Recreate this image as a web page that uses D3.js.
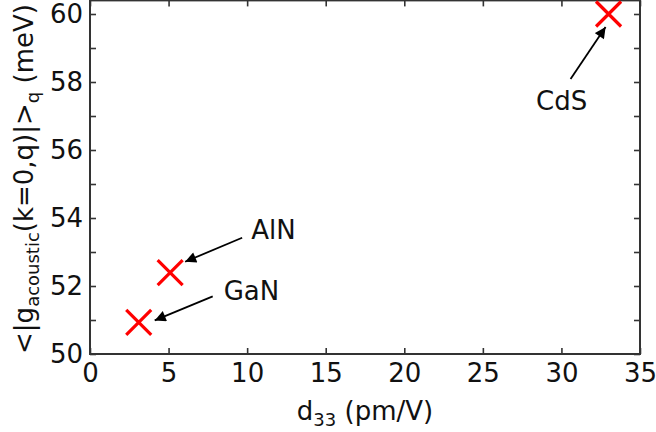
<!DOCTYPE html>
<html>
<head>
<meta charset="utf-8">
<script src="https://cdn.jsdelivr.net/npm/d3@7"></script>
<style>
  html, body { margin: 0; padding: 0; background: #fff; }
  svg { display: block; font-family: "DejaVu Sans", Verdana, sans-serif; }
</style>
</head>
<body>
<svg id="chart" width="656" height="432"></svg>
<script>
// Piezoelectric coefficient vs. averaged acoustic electron-phonon coupling
const materials = ["GaN", "AlN", "CdS"];
const d33 = [3.1, 5.1, 33.0];            // pm/V
const gAcoustic = [50.93, 52.39, 60.0];  // meV

const xTicks = [0, 5, 10, 15, 20, 25, 30, 35];
const yTicks = [50, 52, 54, 56, 58, 60];
const yMinorTicks = [51, 53, 55, 57, 59];

const svg = d3.select("#chart");
const left = 90, right = 640, bottom = 354;

const x = d3.scaleLinear().domain([0, 35]).range([left, right]);
const y = d3.scaleLinear().domain([50, 60]).range([bottom, 14]);
const yTop = y(60.4);

const axisColor = "#333";
const fontSize = 26;
const subSize = 18;

// Axes: ticks pointing inward on all four sides
const bottomAxis = d3.axisBottom(x).tickValues(xTicks).tickSize(-6).tickPadding(10).tickFormat(d3.format("d"));
const topAxis = d3.axisTop(x).tickValues(xTicks).tickSize(-6).tickFormat("");
const leftAxis = d3.axisLeft(y).tickValues(yTicks).tickSize(-6).tickPadding(7).tickFormat(d3.format("d"));
const leftMinor = d3.axisLeft(y).tickValues(yMinorTicks).tickSize(-6).tickFormat("");
const rightAxis = d3.axisRight(y).tickValues(yTicks.concat(yMinorTicks)).tickSize(-6).tickFormat("");

function styleAxis(g) {
  g.select(".domain").remove();
  g.selectAll(".tick line").attr("stroke", axisColor).attr("stroke-width", 1.6);
  g.selectAll(".tick text").attr("fill", "#111").style("font-size", fontSize + "px")
    .style("font-family", '"DejaVu Sans", Verdana, sans-serif');
}

svg.append("g").attr("transform", `translate(0,${bottom})`).call(bottomAxis).call(styleAxis);
svg.append("g").attr("transform", `translate(0,${yTop})`).call(topAxis).call(styleAxis);
svg.append("g").attr("transform", `translate(${left},0)`).call(leftAxis).call(styleAxis);
svg.append("g").attr("transform", `translate(${left},0)`).call(leftMinor).call(styleAxis);
svg.append("g").attr("transform", `translate(${right},0)`).call(rightAxis).call(styleAxis);

// Frame
svg.append("rect")
  .attr("x", left).attr("y", yTop)
  .attr("width", right - left).attr("height", bottom - yTop)
  .attr("fill", "none").attr("stroke", axisColor).attr("stroke-width", 2);

// Markers: red crosses
const arm = 12.5;
const pts = materials.map((m, i) => ({ name: m, px: x(d33[i]), py: y(gAcoustic[i]) }));

const marks = svg.append("g");
pts.forEach(p => {
  marks.append("path")
    .attr("d", `M${p.px - arm},${p.py - arm}L${p.px + arm},${p.py + arm}M${p.px - arm},${p.py + arm}L${p.px + arm},${p.py - arm}`)
    .attr("stroke", "#ff0000").attr("stroke-width", 3.2).attr("fill", "none");
});

// Annotations: text offset, arrow tail and tip offsets (pixels from the marker)
const annot = {
  GaN: { tx: 85, ty: -22, anchor: "start", tail: [74, -26], tip: [16, -2] },
  AlN: { tx: 81, ty: -34, anchor: "start", tail: [72, -35], tip: [15, -11] },
  CdS: { tx: -47, ty: 96, anchor: "middle", tail: [-38, 65], tip: [-3, 13] }
};

svg.append("defs").append("marker")
  .attr("id", "head").attr("viewBox", "0 0 10 10")
  .attr("refX", 10).attr("refY", 5)
  .attr("markerWidth", 13).attr("markerHeight", 11)
  .attr("markerUnits", "userSpaceOnUse")
  .attr("orient", "auto")
  .append("path").attr("d", "M0,0L10,5L0,10Z").attr("fill", "#000");

const ann = svg.append("g");
pts.forEach(p => {
  const a = annot[p.name];
  ann.append("line")
    .attr("x1", p.px + a.tail[0]).attr("y1", p.py + a.tail[1])
    .attr("x2", p.px + a.tip[0]).attr("y2", p.py + a.tip[1])
    .attr("stroke", "#000").attr("stroke-width", 1.8)
    .attr("marker-end", "url(#head)");
  ann.append("text")
    .attr("x", p.px + a.tx).attr("y", p.py + a.ty)
    .attr("text-anchor", a.anchor)
    .attr("fill", "#111")
    .style("font-size", fontSize + "px")
    .text(p.name);
});

// Axis titles
const xl = svg.append("text")
  .attr("x", (left + right) / 2).attr("y", 420)
  .attr("text-anchor", "middle").attr("fill", "#111")
  .style("font-size", fontSize + "px");
xl.append("tspan").text("d");
xl.append("tspan").attr("dy", "6").style("font-size", subSize + "px").text("33");
xl.append("tspan").attr("dy", "-6").text(" (pm/V)");

const yl = svg.append("text")
  .attr("transform", `translate(33,179) rotate(-90)`)
  .attr("text-anchor", "middle").attr("fill", "#111")
  .style("font-size", fontSize + "px");
yl.append("tspan").text("<|g");
yl.append("tspan").attr("dy", "6").style("font-size", subSize + "px").text("acoustic");
yl.append("tspan").attr("dy", "-6").text("(k=0,q)|>");
yl.append("tspan").attr("dy", "6").style("font-size", subSize + "px").text("q");
yl.append("tspan").attr("dy", "-6").text(" (meV)");
</script>
</body>
</html>
